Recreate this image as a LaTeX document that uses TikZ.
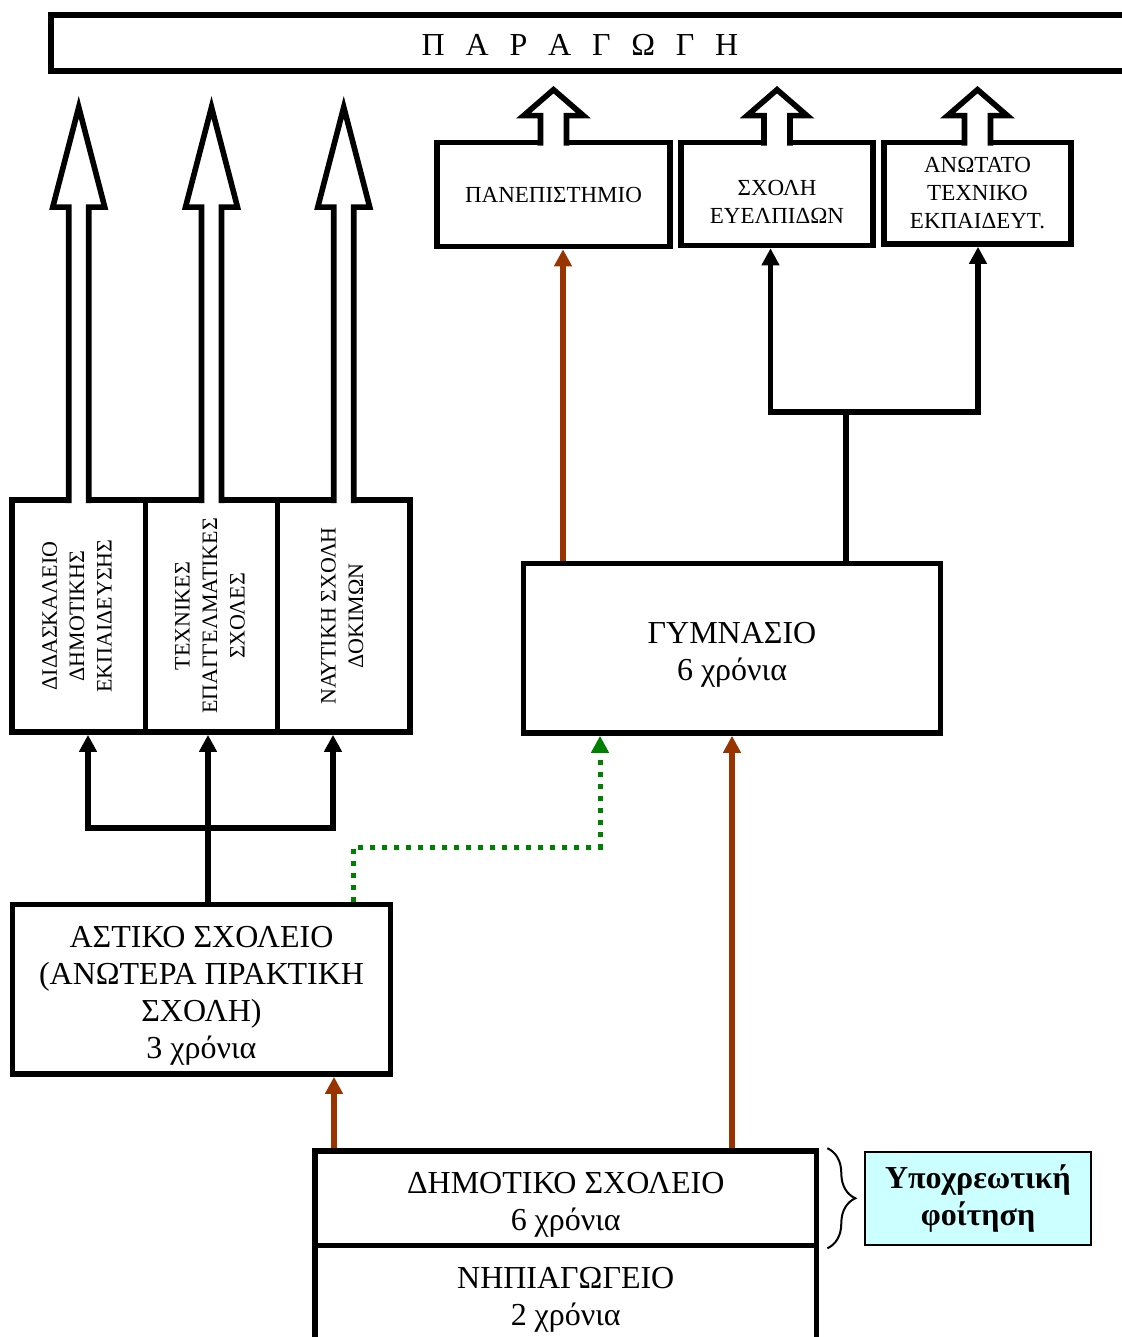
\documentclass[tikz,border=0pt]{standalone}
\usepackage{fontspec}
\setmainfont{Liberation Serif}
\newfontfamily\spaced{Liberation Serif}[WordSpace=2.6]
\usepackage{tikz}
\usetikzlibrary{arrows.meta,calc,positioning,decorations.pathreplacing}
\definecolor{brun}{HTML}{993300}
\definecolor{vert}{HTML}{008000}
\definecolor{cyanclair}{HTML}{CCFFFF}
\newcommand{\haut}[1]{\rule{0pt}{#1}}

\begin{document}
\begin{tikzpicture}[x=0.5pt, y=-0.5pt,
			box/.style={draw, line width=2.8pt, inner sep=0pt, align=center},
			big/.style={font=\fontsize{16}{18.5}\selectfont},
			small/.style={font=\fontsize{11.5}{14}\selectfont},
			side/.style={font=\fontsize{11}{13.75}\selectfont},
			hollow/.style={draw, fill=white, line width=2.8pt, miter limit=10},
			conn/.style={line width=2.7pt},
			brn/.style={conn, draw=brun, ->},
			dots/.style={draw=vert, line width=2.5pt, dash pattern=on 2.5pt off 3.5pt, ->},
			>={Triangle[length=8.5pt,width=8.5pt]}
			]
			\useasboundingbox (0,0) rectangle (1122,1337);
			\clip (0,0) rectangle (1122,1337);

			% La production
			\draw[line width=3pt] (51,15) rectangle (1160,71);
			\node[font=\fontsize{16}{18}\spaced] (prod) at (580,45) {Π Α Ρ Α Γ Ω Γ Η};

			% Les boîtes
			\node[box, small, minimum width=116.5pt, minimum height=52pt] (panep) at (553.5,194.5) {ΠΑΝΕΠΙΣΤΗΜΙΟ};
			\node[box, small, minimum width=96pt, minimum height=51.5pt] (evelp) at (777,194) {\haut{16pt}ΣΧΟΛΗ\\ΕΥΕΛΠΙΔΩΝ};
			\node[box, small, minimum width=93.5pt, minimum height=50.75pt] (anot) at (977.5,193.25) {ΑΝΩΤΑΤΟ\\ΤΕΧΝΙΚΟ\\ΕΚΠΑΙΔΕΥΤ.};
			\node[box, side, minimum width=66.75pt, minimum height=116pt] (didask) at (78.75,616)
				{\rotatebox{90}{\begin{tabular}{@{}c@{}}ΔΙΔΑΣΚΑΛΕΙΟ\\ΔΗΜΟΤΙΚΗΣ\\ΕΚΠΑΙΔΕΥΣΗΣ\end{tabular}}};
			\node[box, side, minimum width=66pt, minimum height=116pt] (tech) at (211.5,616)
				{\rotatebox{90}{\begin{tabular}{@{}c@{}}ΤΕΧΝΙΚΕΣ\\ΕΠΑΓΓΕΛΜΑΤΙΚΕΣ\\ΣΧΟΛΕΣ\end{tabular}}};
			\node[box, side, minimum width=66.25pt, minimum height=116pt] (naut) at (343.75,616)
				{\rotatebox{90}{\begin{tabular}{@{}c@{}}ΝΑΥΤΙΚΗ ΣΧΟΛΗ\\ΔΟΚΙΜΩΝ\end{tabular}}};
			\node[box, big, minimum width=208.5pt, minimum height=84.75pt] (gymn) at (732,648.25) {\haut{17pt}ΓΥΜΝΑΣΙΟ\\6 χρόνια};
			\node[box, big, minimum width=189pt, minimum height=84.75pt] (astiko) at (201.5,989.25)
				{\haut{17pt}ΑΣΤΙΚΟ ΣΧΟΛΕΙΟ\\(ΑΝΩΤΕΡΑ ΠΡΑΚΤΙΚΗ\\ΣΧΟΛΗ)\\3 χρόνια};
			\node[box, big, minimum width=250.75pt, minimum height=47.25pt] (dimot) at (565.75,1198.25) {\haut{17pt}ΔΗΜΟΤΙΚΟ ΣΧΟΛΕΙΟ\\6 χρόνια};
			\node[box, big, minimum width=250.75pt, minimum height=50pt] (nipi) at (565.75,1295.5) {\haut{15pt}ΝΗΠΙΑΓΩΓΕΙΟ\\2 χρόνια};
			\node[draw, fill=cyanclair, line width=1pt, inner sep=0pt, align=center,
				font=\fontsize{16}{18.5}\selectfont\bfseries,
				minimum width=113pt, minimum height=46.75pt] (ypox) at (978,1198.25) {Υποχρεωτική\\φοίτηση};

			% Les flèches creuses
			\foreach \b in {didask,tech,naut}
				\filldraw[hollow] ($(\b.north)+(-10,6)$) -- ++(0,-296) -- ++(-16,0) -- ++(26,-100)
					-- ++(26,100) -- ++(-16,0) -- ++(0,296);
			\foreach \b in {panep,evelp,anot}
				\filldraw[hollow] ($(\b.north)+(-13,6)$) -- ++(0,-30) -- ++(-17,0) -- ++(30,-26)
					-- ++(30,26) -- ++(-17,0) -- ++(0,30);

			% Les liaisons
			\coordinate (b1) at (563,0);
			\coordinate (b2) at (732,0);
			\coordinate (b3) at (334,0);
			\draw[brn] (b1 |- gymn.north) -- (b1 |- panep.south);
			\draw[brn] (b2 |- dimot.north) -- (b2 |- gymn.south);
			\draw[brn] (b3 |- dimot.north) -- (b3 |- astiko.south);

			\coordinate (r0) at (846,412);
			\coordinate (r1) at (770.5,412);
			\coordinate (r2) at (978,412);
			\draw[conn, <->] (r1 |- evelp.south) -- (r1) -- (r2) -- (r2 |- anot.south);
			\draw[conn] (r0 |- gymn.north) -- (r0);

			\coordinate (l1) at (88,828);
			\coordinate (l2) at (208,828);
			\coordinate (l3) at (333,828);
			\draw[conn, <->] (l1 |- didask.south) -- (l1) -- (l3) -- (l3 |- naut.south);
			\draw[conn, ->] (l2 |- astiko.north) -- (l2 |- tech.south);

			\coordinate (v1) at (353,847);
			\coordinate (v2) at (600,847);
			\draw[dots] (v1 |- astiko.north) -- (v1) -- (v2) -- (v2 |- gymn.south);

			% L'accolade
			\draw[line width=1pt, decorate, decoration={brace, amplitude=14pt}]
				($(dimot.north east)+(8,0)$) -- ($(dimot.south east)+(8,0)$);
		\end{tikzpicture}
\end{document}
